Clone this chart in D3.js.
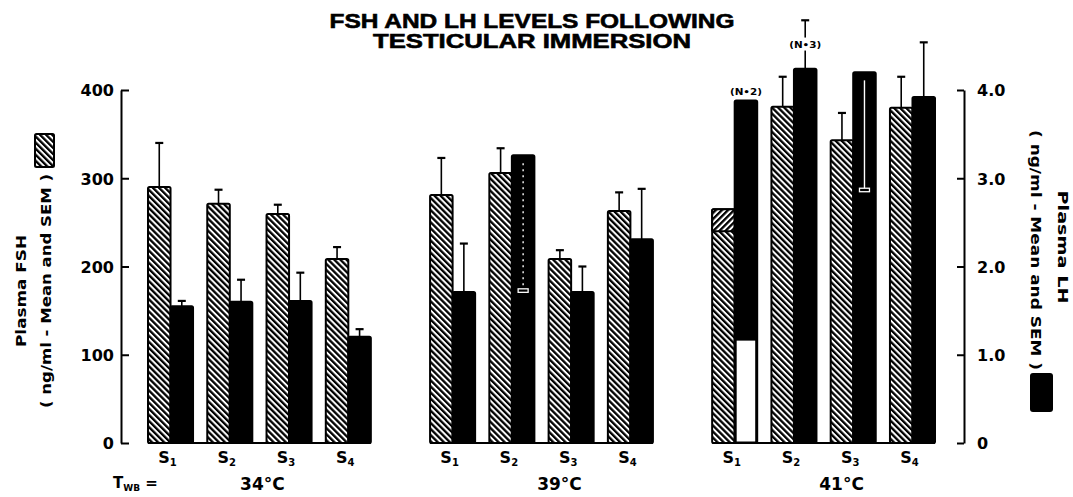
<!DOCTYPE html>
<html>
<head>
<meta charset="utf-8">
<script src="https://cdn.jsdelivr.net/npm/d3@7/dist/d3.min.js"></script>
<style>
  html, body { margin: 0; padding: 0; background: #fff; }
  svg { display: block; }
  text { font-family: "DejaVu Sans", sans-serif; font-weight: bold; fill: #000; }
</style>
</head>
<body>
<svg id="chart" width="1073" height="497"></svg>
<script>
// ---------------- data ----------------
const groups = ["34°C", "39°C", "41°C"];
const subjects = ["1", "2", "3", "4"];
const fshMean = [[290, 271, 259.5, 208.5], [281, 306, 208.5, 263], [265, 381, 343, 380]];
const fshSem  = [[50, 16, 10.5, 13.5], [42, 28, 10, 21], [0, 34, 31, 35]];
const lhMean  = [[1.55, 1.60, 1.61, 1.205], [1.71, 3.26, 1.71, 2.31], [3.88, 4.24, 4.20, 3.92]];
const lhSem   = [[0.06, 0.25, 0.32, 0.085], [0.55, 1.53, 0.29, 0.57], [0, 0.55, 1.33, 0.62]];
const lhSemDown = [[0, 0, 0, 0], [0, 1, 0, 0], [0, 0, 1, 0]];
const fshSplit = [[null, null, null, null], [null, null, null, null], [240, null, null, null]];
const lhHollow = [[null, null, null, null], [null, null, null, null], [1.16, null, null, null]];
const nNotes = [[null, null, null, null], [null, null, null, null], ["(N•2)", "(N•3)", null, null]];
const fshTicks = [0, 100, 200, 300, 400];
const lhTicks = [0, 1, 2, 3, 4];
const lhTickLabels = ["0", "1.0", "2.0", "3.0", "4.0"];
const title = ["FSH AND LH LEVELS FOLLOWING", "TESTICULAR IMMERSION"];

// ---------------- layout ----------------
const svg = d3.select("#chart");
const yF = d3.scaleLinear().domain([0, 400]).range([443, 90]);
const yL = d3.scaleLinear().domain([0, 4]).range([443, 90]);
const x0 = d3.scaleBand().domain(groups).range([148, 935]).paddingInner(0.21).paddingOuter(0);
const x1 = d3.scaleBand().domain(subjects).range([0, x0.bandwidth()]).paddingInner(0.24).paddingOuter(0);
const x2 = d3.scaleBand().domain(["FSH", "LH"]).range([0, x1.bandwidth()]);

const defs = svg.append("defs");
function hatch(id, angle) {
  const p = defs.append("pattern").attr("id", id).attr("patternUnits", "userSpaceOnUse")
    .attr("width", 4.3).attr("height", 4.3).attr("patternTransform", `rotate(${angle})`);
  p.append("rect").attr("width", 4.3).attr("height", 4.3).attr("fill", "#fff");
  p.append("rect").attr("width", 2.3).attr("height", 4.3).attr("fill", "#000");
}
hatch("hatchA", -45);
hatch("hatchB", 45);

// title
svg.selectAll("text.title").data(title).join("text").attr("class", "title")
  .attr("x", 532).attr("y", (d, i) => 28 + i * 20)
  .attr("text-anchor", "middle")
  .style("font-family", "'Liberation Sans Narrow', 'Liberation Sans', Arial, sans-serif")
  .style("font-weight", "900").style("font-size", "20px")
  .style("stroke", "#000").style("stroke-width", "0.6px")
  .attr("textLength", (d, i) => i === 0 ? 405 : 318).attr("lengthAdjust", "spacingAndGlyphs")
  .text(d => d);

// axes
const axL = d3.axisLeft(yF).tickValues(fshTicks).tickSizeInner(-8).tickSizeOuter(0).tickPadding(7).tickFormat(d3.format("d"));
const gL = svg.append("g").attr("transform", "translate(121,0)").call(axL);
const axR = d3.axisRight(yL).tickValues(lhTicks).tickSizeInner(-7).tickSizeOuter(0).tickPadding(13)
  .tickFormat((d, i) => lhTickLabels[i]);
const gR = svg.append("g").attr("transform", "translate(964,0)").call(axR);
[gL, gR].forEach(g => {
  g.select(".domain").attr("stroke", "#000").attr("stroke-width", 2);
  g.selectAll(".tick line").attr("stroke", "#000").attr("stroke-width", 2);
  g.selectAll(".tick text").style("font-family", "'DejaVu Sans', sans-serif").style("font-weight", "bold")
    .style("font-size", "16px").attr("fill", "#000");
});
gL.selectAll(".tick text").attr("dy", "0.36em");
gR.selectAll(".tick text").attr("dy", "0.36em");

// axis titles
const lt = svg.append("g").attr("transform", "translate(0,291) rotate(-90)");
lt.append("text").attr("x", 0).attr("y", 26).attr("text-anchor", "middle").style("font-size", "14px")
  .attr("textLength", 112).attr("lengthAdjust", "spacingAndGlyphs").text("Plasma FSH");
lt.append("text").attr("x", 0).attr("y", 51).attr("text-anchor", "middle").style("font-size", "14px")
  .attr("textLength", 234).attr("lengthAdjust", "spacingAndGlyphs").text("( ng/ml - Mean and SEM )");
lt.append("rect").attr("x", 124).attr("y", 35).attr("width", 33).attr("height", 19)
  .attr("fill", "url(#hatchB)").attr("stroke", "#000").attr("stroke-width", 2).attr("rx", 1.5);

const rt = svg.append("g").attr("transform", "translate(1073,250) rotate(90)");
rt.append("text").attr("x", -3).attr("y", 15).attr("text-anchor", "middle").style("font-size", "14px")
  .attr("textLength", 113).attr("lengthAdjust", "spacingAndGlyphs").text("Plasma LH");
rt.append("text").attr("x", 0).attr("y", 42).attr("text-anchor", "middle").style("font-size", "14px")
  .attr("textLength", 240).attr("lengthAdjust", "spacingAndGlyphs").text("( ng/ml - Mean and SEM )");
rt.append("rect").attr("x", 123).attr("y", 20).attr("width", 39).attr("height", 23)
  .attr("fill", "#000").attr("rx", 3);

// bars
const cells = [];
groups.forEach((g, gi) => subjects.forEach((s, si) => cells.push({ g, gi, s, si })));

const gg = svg.append("g");
gg.selectAll("line.base").data(groups).join("line").attr("class", "base")
  .attr("x1", d => x0(d)).attr("x2", d => x0(d) + x0.bandwidth())
  .attr("y1", yF(0)).attr("y2", yF(0)).attr("stroke", "#000").attr("stroke-width", 2);

const cx = (c, k) => x0(c.g) + x1(c.s) + x2(k);
const bw = x2.bandwidth();

function errUp(sel, xf, y0f, y1f) {
  sel.append("line").attr("x1", xf).attr("x2", xf).attr("y1", y0f).attr("y2", y1f)
    .attr("stroke", "#000").attr("stroke-width", 1.6);
  sel.append("line").attr("x1", xf - 4).attr("x2", xf + 4).attr("y1", y1f).attr("y2", y1f)
    .attr("stroke", "#000").attr("stroke-width", 2.2);
}
cells.forEach(c => {
  const fm = fshMean[c.gi][c.si], fs = fshSem[c.gi][c.si];
  if (fs > 0) errUp(gg, cx(c, "FSH") + bw / 2, yF(fm), yF(fm + fs));
  const lm = lhMean[c.gi][c.si], ls = lhSem[c.gi][c.si];
  if (ls > 0 && !lhSemDown[c.gi][c.si]) errUp(gg, cx(c, "LH") + bw / 2, yL(lm), yL(lm + ls));
});

gg.selectAll("rect.fsh").data(cells).join("rect").attr("class", "fsh")
  .attr("x", c => cx(c, "FSH")).attr("width", bw)
  .attr("y", c => yF(fshMean[c.gi][c.si])).attr("height", c => yF(0) - yF(fshMean[c.gi][c.si]))
  .attr("fill", "url(#hatchA)").attr("stroke", "#000").attr("stroke-width", 2).attr("rx", 1.5);
cells.filter(c => fshSplit[c.gi][c.si] != null).forEach(c => {
  const top = fshMean[c.gi][c.si], sp = fshSplit[c.gi][c.si];
  gg.append("rect").attr("x", cx(c, "FSH")).attr("width", bw)
    .attr("y", yF(top)).attr("height", yF(sp) - yF(top))
    .attr("fill", "url(#hatchB)").attr("stroke", "#000").attr("stroke-width", 2).attr("rx", 1.5);
});

gg.selectAll("rect.lh").data(cells).join("rect").attr("class", "lh")
  .attr("x", c => cx(c, "LH")).attr("width", bw)
  .attr("y", c => yL(lhMean[c.gi][c.si])).attr("height", c => yL(0) - yL(lhMean[c.gi][c.si]))
  .attr("fill", "#000").attr("stroke", "#000").attr("stroke-width", 2).attr("rx", 1.5);
cells.filter(c => lhHollow[c.gi][c.si] != null).forEach(c => {
  const h = lhHollow[c.gi][c.si];
  gg.append("rect").attr("x", cx(c, "LH") + 2).attr("width", bw - 4)
    .attr("y", yL(h)).attr("height", yL(0) - yL(h) - 1.5).attr("fill", "#fff");
});
cells.filter(c => lhSemDown[c.gi][c.si]).forEach(c => {
  const lm = lhMean[c.gi][c.si], ls = lhSem[c.gi][c.si];
  const xm = cx(c, "LH") + bw / 2;
  gg.append("line").attr("x1", xm).attr("x2", xm).attr("y1", yL(lm) + 8).attr("y2", yL(lm - ls))
    .attr("stroke", "#fff").attr("stroke-width", 1.4)
    .attr("stroke-dasharray", c.gi === 1 ? "2,4" : null);
  gg.append("rect").attr("x", xm - 5).attr("y", yL(lm - ls) - 1.5).attr("width", 10).attr("height", 3.5)
    .attr("fill", "#000").attr("stroke", "#fff").attr("stroke-width", 1.3);
});

cells.filter(c => nNotes[c.gi][c.si]).forEach(c => {
  const lm = lhMean[c.gi][c.si], ls = lhSem[c.gi][c.si];
  const xm = cx(c, "LH") + bw / 2;
  const yy = ls > 0 ? (yL(lm) + yL(lm + ls)) / 2 : yL(lm) - 9;
  if (ls > 0) gg.append("rect").attr("x", xm - 18).attr("y", yy - 7).attr("width", 36).attr("height", 13).attr("fill", "#fff");
  gg.append("text").attr("x", xm).attr("y", yy + 3).attr("text-anchor", "middle")
    .style("font-size", "8px").attr("textLength", 32).attr("lengthAdjust", "spacingAndGlyphs")
    .text(nNotes[c.gi][c.si]);
});

const sl = gg.selectAll("text.subj").data(cells).join("text").attr("class", "subj")
  .attr("x", c => x0(c.g) + x1(c.s) + x1.bandwidth() / 2 - 3).attr("y", 463)
  .attr("text-anchor", "middle").style("font-size", "16px");
sl.append("tspan").text("S");
sl.append("tspan").attr("dy", 3).style("font-size", "10px").text(c => c.s);

svg.selectAll("text.temp").data(groups).join("text").attr("class", "temp")
  .attr("x", (d, i) => x0(d) + x0.bandwidth() / 2 + (i === 0 ? 3 : 18)).attr("y", 490)
  .attr("text-anchor", "middle").style("font-size", "17px").text(d => d);

const tw = svg.append("text").attr("x", 113).attr("y", 488).style("font-size", "15px");
tw.append("tspan").text("T");
tw.append("tspan").attr("dy", 3).style("font-size", "9px").text("WB");
tw.append("tspan").attr("dy", -3).style("font-size", "15px").text(" =");
</script>
</body>
</html>
